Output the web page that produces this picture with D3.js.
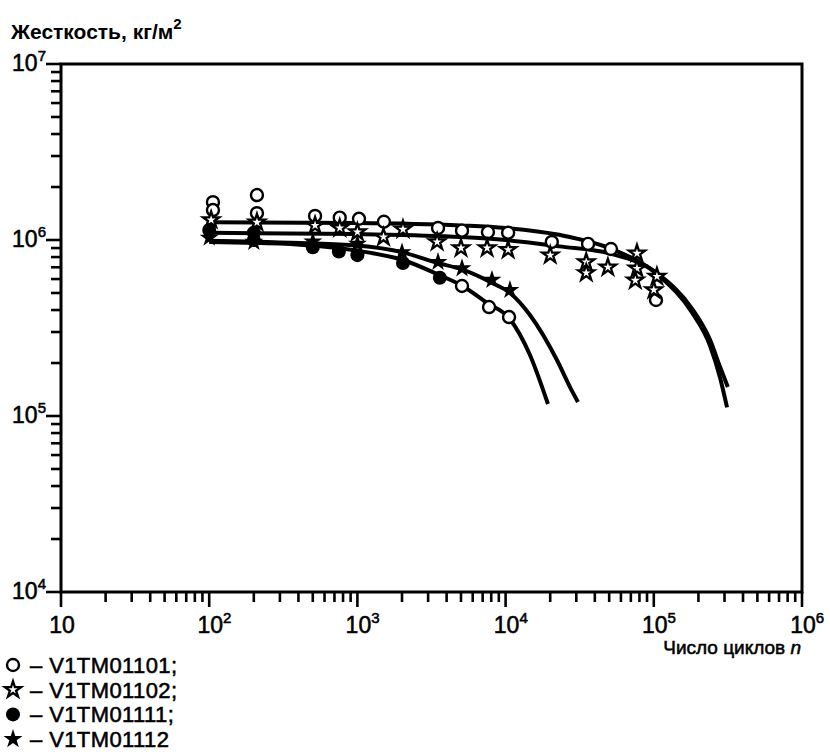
<!DOCTYPE html>
<html><head><meta charset="utf-8">
<script src="https://cdn.jsdelivr.net/npm/d3@7"></script>
<style>
html,body{margin:0;padding:0;background:#fff;}
svg{display:block;font-family:"Liberation Sans",Arial,sans-serif;}
.heavy{stroke:#000;stroke-width:0.55px;paint-order:stroke;}
</style></head>
<body><svg id="chart" width="830" height="756"></svg>
<script>
// ---------- data ----------
const xDecades = [1, 2, 3, 4, 5, 6];      // 10^1 .. 10^6
const yDecades = [4, 5, 6, 7];            // 10^4 .. 10^7
const legendLabels = ["V1TM01101;", "V1TM01102;", "V1TM01111;", "V1TM01112"];
const yTitle = "Жесткость, кг/м";
const xTitle = "Число циклов ";

// V1TM01101 (open circles)
const openCircleN = [106, 106, 210, 210, 518, 760, 1025, 1510, 3500, 5080, 7600, 10400, 20500, 36000, 51400, 103500, 5080, 7730, 10550];
const openCircleV = [1.64e6, 1.48e6, 1.80e6, 1.42e6, 1.37e6, 1.34e6, 1.32e6, 1.27e6, 1.17e6, 1.13e6, 1.11e6, 1.10e6, 0.975e6, 0.95e6, 0.889e6, 0.456e6, 0.548e6, 0.416e6, 0.365e6];
// V1TM01102 (open stars)
const openStarN = [103, 210, 518, 760, 1000, 1500, 2030, 3450, 5000, 7500, 10400, 20000, 35000, 35000, 49000, 77000, 77000, 75000, 105000, 100000];
const openStarV = [1.30e6, 1.26e6, 1.21e6, 1.17e6, 1.11e6, 1.04e6, 1.15e6, 0.975e6, 0.90e6, 0.90e6, 0.88e6, 0.82e6, 0.75e6, 0.65e6, 0.70e6, 0.84e6, 0.69e6, 0.59e6, 0.62e6, 0.52e6];
// V1TM01111 (filled circles)
const fullCircleN = [100, 200, 200, 500, 750, 1000, 2030, 3600];
const fullCircleV = [1.14e6, 1.10e6, 1.0e6, 0.91e6, 0.86e6, 0.82e6, 0.74e6, 0.61e6];
// V1TM01112 (filled stars)
const fullStarN = [100, 200, 500, 1000, 2000, 3500, 5080, 8090, 10700];
const fullStarV = [1.03e6, 0.975e6, 0.98e6, 0.95e6, 0.85e6, 0.75e6, 0.69e6, 0.593e6, 0.52e6];

// fitted curves
const curveAN = [100, 1000, 5000, 10000, 23000, 50000, 110000, 180000, 240000, 280000, 312000];
const curveAV = [1.26e6, 1.25e6, 1.21e6, 1.17e6, 1.07e6, 0.90e6, 0.62e6, 0.39e6, 0.25e6, 0.165e6, 0.112e6];
const curveBN = [100, 1000, 5000, 10000, 23000, 50000, 110000, 180000, 240000, 280000, 316000];
const curveBV = [1.10e6, 1.08e6, 1.04e6, 1.0e6, 0.92e6, 0.84e6, 0.63e6, 0.41e6, 0.27e6, 0.19e6, 0.146e6];
const curveCN = [100, 410, 990, 2030, 3600, 5080, 7480, 10550, 14600, 19300];
const curveCV = [0.975e6, 0.94e6, 0.87e6, 0.77e6, 0.63e6, 0.55e6, 0.44e6, 0.36e6, 0.222e6, 0.117e6];
const curveDN = [100, 410, 990, 2030, 3470, 5080, 8100, 10700, 14600, 22200, 27200, 30800];
const curveDV = [0.99e6, 0.96e6, 0.93e6, 0.85e6, 0.74e6, 0.68e6, 0.57e6, 0.50e6, 0.375e6, 0.208e6, 0.146e6, 0.12e6];

// ---------- drawing ----------
const svg = d3.select("#chart");
const L = 61, R = 802, T = 64, B = 592;
const x = d3.scaleLog().domain([10, 1e6]).range([L, R]);
const y = d3.scaleLog().domain([1e4, 1e7]).range([B, T]);
const ink = "#000";
const isDecade = d => Math.abs(Math.log10(d) - Math.round(Math.log10(d))) < 1e-9;

// frame
svg.append("rect").attr("x", L).attr("y", T).attr("width", R - L).attr("height", B - T)
  .attr("fill", "none").attr("stroke", ink).attr("stroke-width", 3);

// x ticks
const xTicks = d3.range(1, 6).flatMap(e => d3.range(1, 10).map(k => k * Math.pow(10, e))).concat([1e6]);
svg.append("g").selectAll("line").data(xTicks).join("line")
  .attr("x1", d => x(d)).attr("x2", d => x(d))
  .attr("y1", B).attr("y2", d => B + (isDecade(d) ? 15 : 10))
  .attr("stroke", ink).attr("stroke-width", 2.6);

// y ticks
const yTicks = d3.range(4, 7).flatMap(e => d3.range(1, 10).map(k => k * Math.pow(10, e))).concat([1e7]);
svg.append("g").selectAll("line").data(yTicks).join("line")
  .attr("y1", d => y(d)).attr("y2", d => y(d))
  .attr("x1", L).attr("x2", d => L - (isDecade(d) ? 15 : 10))
  .attr("stroke", ink).attr("stroke-width", 2.6);

// x labels
const fs = 23, sfs = 15;
xDecades.forEach(e => {
  const t = svg.append("text").attr("class", "heavy").attr("y", 633).attr("font-size", fs).attr("fill", ink);
  const base = t.append("tspan").text("10");
  if (e > 1) t.append("tspan").attr("dy", -10).attr("font-size", sfs).text(e);
  const w = base.node().getComputedTextLength();
  t.attr("x", x(Math.pow(10, e)) - w / 2 + 1);
});
// y labels
yDecades.forEach(e => {
  const t = svg.append("text").attr("class", "heavy").attr("x", 46).attr("y", y(Math.pow(10, e)) + 7)
    .attr("font-size", fs).attr("fill", ink).attr("text-anchor", "end");
  t.append("tspan").text("10");
  t.append("tspan").attr("dy", -10).attr("font-size", sfs).text(e);
});

// titles
const yt = svg.append("text").attr("x", 11).attr("y", 39).attr("font-size", 21).attr("font-weight", "bold").attr("fill", ink);
yt.append("tspan").text(yTitle);
yt.append("tspan").attr("dy", -10).attr("font-size", 15).text("2");
const xt = svg.append("text").attr("class", "heavy").attr("x", 801).attr("y", 654).attr("font-size", 19).attr("text-anchor", "end").attr("fill", ink);
xt.append("tspan").text(xTitle);
xt.append("tspan").attr("font-style", "italic").text("n");

// curves
const line = d3.line().x(d => x(d[0])).y(d => y(d[1])).curve(d3.curveMonotoneX);
[[curveAN, curveAV], [curveBN, curveBV], [curveCN, curveCV], [curveDN, curveDV]].forEach(([n, v]) => {
  svg.append("path").datum(n.map((d, i) => [d, v[i]])).attr("d", line)
    .attr("fill", "none").attr("stroke", ink).attr("stroke-width", 4).attr("stroke-linecap", "butt");
});

// markers
const starSym = r => d3.symbol(d3.symbolStar, r * r / 0.8908130915292852);
function marker(g, kind) {
  if (kind === 0) g.append("circle").attr("r", 6).attr("fill", "#fff").attr("stroke", ink).attr("stroke-width", 2.4);
  if (kind === 1) g.append("path").attr("d", starSym(8.5)()).attr("fill", "#fff").attr("stroke", ink).attr("stroke-width", 2.3).attr("stroke-linejoin", "miter");
  if (kind === 2) g.append("circle").attr("r", 7).attr("fill", ink);
  if (kind === 3) g.append("path").attr("d", starSym(10)()).attr("fill", ink);
}
const sets = [[openCircleN, openCircleV, 0], [openStarN, openStarV, 1], [fullCircleN, fullCircleV, 2], [fullStarN, fullStarV, 3]];
sets.forEach(([n, v, k]) => {
  n.forEach((d, i) => {
    const g = svg.append("g").attr("transform", `translate(${x(d)},${y(v[i])})`);
    marker(g, k);
  });
});

// legend
legendLabels.forEach((lab, i) => {
  const cy = 665 + i * 24.7;
  const g = svg.append("g").attr("transform", `translate(13,${cy})`);
  marker(g, i);
  svg.append("text").attr("class", "heavy").attr("x", 30).attr("y", cy + 8).attr("font-size", 22)
    .attr("letter-spacing", 0.4).attr("fill", ink).text("– " + lab);
});
</script></body></html>
